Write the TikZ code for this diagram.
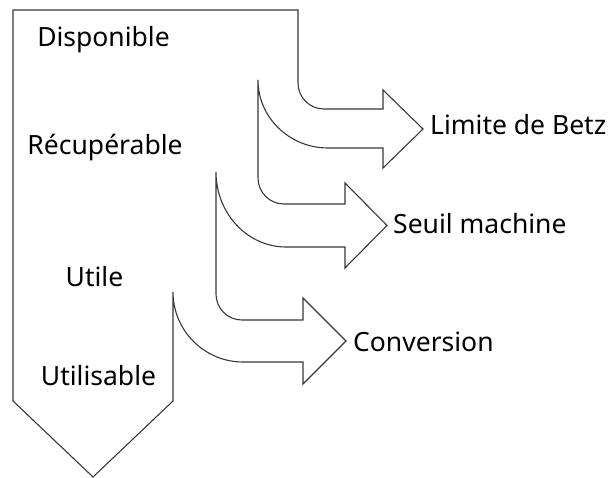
\documentclass[tikz,border=0pt]{standalone}
\usepackage{fontspec}
\setmainfont{Noto Sans}
\begin{document}
\begin{tikzpicture}[x=1pt,y=-1pt,
  outline/.style={draw=black!78,line width=1.1pt,line join=miter},
  lbl/.style={inner sep=0pt,font=\fontsize{26.5}{30}\selectfont,text=black}]
\useasboundingbox (0,0) rectangle (616,478);
% main shape with the three bent arrows
\draw[outline]
  (93,477) -- (13,401) -- (13,10) -- (298,10) -- (298,83)
  .. controls (298,97.4) and (309.6,109) .. (324,109)
  -- (383,109) -- (383,90) -- (423,129) -- (383,168) -- (383,148) -- (328,148)
  .. controls (289.4,148) and (258,117.5) .. (258,80)
  -- (258,178)
  .. controls (258,192.4) and (269.6,204) .. (284,204)
  -- (345,204) -- (345,183) -- (387,225.5) -- (345,268) -- (345,247) -- (286,247)
  .. controls (247.4,247) and (216,213.4) .. (216,172)
  -- (216,294)
  .. controls (216,308.4) and (227.6,320) .. (242,320)
  -- (303,320) -- (303,298) -- (346,341) -- (303,384) -- (303,362) -- (243,362)
  .. controls (204.4,362) and (173,330.6) .. (173,292)
  -- (173,401) -- cycle;
% labels
\node[lbl,anchor=base] (disp) at (103.5,47) {Disponible};
\node[lbl,anchor=base] (recu) at (105,155) {Récupérable};
\node[lbl,anchor=base] (util) at (94.5,287) {Utile};
\node[lbl,anchor=base] (utis) at (98.5,385) {Utilisable};
\node[lbl,anchor=base west] (betz) at (430,135) {Limite de Betz};
\node[lbl,anchor=base west] (seuil) at (393,234) {Seuil machine};
\node[lbl,anchor=base west] (conv) at (353,352) {Conversion};
\end{tikzpicture}
\end{document}
